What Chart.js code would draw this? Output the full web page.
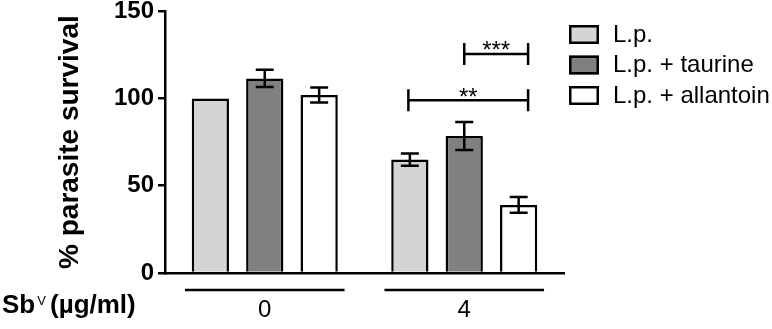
<!DOCTYPE html>
<html>
<head>
<meta charset="utf-8">
<script src="https://cdn.jsdelivr.net/npm/chart.js@4"></script>
<style>
    html, body { margin: 0; padding: 0; background: #fff; }
    #wrap { width: 772px; height: 329px; }
</style>
</head>
<body>
<div id="wrap"><canvas id="survivalChart"></canvas></div>
<script>
const doses = ['0', '4'];
const seriesLabels = ['L.p.', 'L.p. + taurine', 'L.p. + allantoin'];
const seriesColors = ['#d4d4d4', '#808080', '#ffffff'];
const lpSurvival = [100, 65];
const taurineSurvival = [111.5, 78.5];
const allantoinSurvival = [102, 39];
const lpError = [0, 3.5];
const taurineError = [5, 8];
const allantoinError = [4.3, 4.5];
const yTickValues = [0, 50, 100, 150];

// significance brackets (x in category units, y in % survival)
const bracketFrom = [0.72, 1.0];
const bracketTo = [1.32, 1.32];
const bracketLevel = [99, 125.5];
const bracketStars = ['**', '***'];

const FONT = "'Liberation Sans', Arial, sans-serif";
Chart.defaults.font.family = FONT;
Chart.defaults.color = '#000';

const errorSets = [lpError, taurineError, allantoinError];

const annotations = {
    id: 'survivalAnnotations',
    afterDatasetsDraw(chart) {
        const ctx = chart.ctx;
        const x = chart.scales.x;
        const y = chart.scales.y;
        ctx.save();
        ctx.strokeStyle = '#000';
        ctx.lineWidth = 2.5;
        ctx.lineCap = 'butt';

        // error bars
        errorSets.forEach(function(errors, i) {
            const values = chart.data.datasets[i].data;
            chart.getDatasetMeta(i).data.forEach(function(bar, j) {
                if (!errors[j]) return;
                const top = y.getPixelForValue(values[j] + errors[j]);
                const bottom = y.getPixelForValue(values[j] - errors[j]);
                ctx.beginPath();
                ctx.moveTo(bar.x, top);
                ctx.lineTo(bar.x, bottom);
                ctx.moveTo(bar.x - 9, top);
                ctx.lineTo(bar.x + 9, top);
                ctx.moveTo(bar.x - 9, bottom);
                ctx.lineTo(bar.x + 9, bottom);
                ctx.stroke();
            });
        });

        // significance brackets
        ctx.fillStyle = '#000';
        ctx.font = '24px ' + FONT;
        ctx.textAlign = 'center';
        ctx.textBaseline = 'alphabetic';
        bracketLevel.forEach(function(level, k) {
            const x0 = x.getPixelForValue(bracketFrom[k]);
            const x1 = x.getPixelForValue(bracketTo[k]);
            const yy = y.getPixelForValue(level);
            ctx.beginPath();
            ctx.moveTo(x0, yy);
            ctx.lineTo(x1, yy);
            ctx.moveTo(x0, yy - 11);
            ctx.lineTo(x0, yy + 11);
            ctx.moveTo(x1, yy - 11);
            ctx.lineTo(x1, yy + 11);
            ctx.stroke();
            ctx.fillText(bracketStars[k], (x0 + x1) / 2, yy + 4.5);
        });

        // dose group lines under the axis
        const lineY = chart.chartArea.bottom + 17;
        doses.forEach(function(dose, i) {
            ctx.beginPath();
            ctx.moveTo(x.getPixelForValue(i - 0.4), lineY);
            ctx.lineTo(x.getPixelForValue(i + 0.4), lineY);
            ctx.stroke();
        });

        // Sb(V) axis caption
        ctx.textAlign = 'left';
        ctx.font = 'bold 26px ' + FONT;
        ctx.fillText('Sb', 2, 313);
        const sbWidth = ctx.measureText('Sb').width;
        ctx.font = '13px ' + FONT;
        ctx.fillText('V', 2 + sbWidth + 2, 305);
        ctx.font = 'bold 26px ' + FONT;
        ctx.fillText('(\u00b5g/ml)', 50, 313);

        // legend on the right
        const legendX = chart.chartArea.right + 5;
        ctx.font = '24px ' + FONT;
        ctx.textBaseline = 'middle';
        chart.data.datasets.forEach(function(ds, i) {
            const boxTop = 25 + i * 30.5;
            ctx.fillStyle = ds.backgroundColor;
            ctx.fillRect(legendX, boxTop, 30, 19);
            ctx.strokeRect(legendX + 1.25, boxTop + 1.25, 27.5, 16.5);
            ctx.fillStyle = '#000';
            ctx.fillText(ds.label, legendX + 44, boxTop + 10);
        });
        ctx.restore();
    }
};

new Chart(document.getElementById('survivalChart'), {
    type: 'bar',
    data: {
        labels: doses,
        datasets: [lpSurvival, taurineSurvival, allantoinSurvival].map(function(values, i) {
            return {
                label: seriesLabels[i],
                data: values,
                backgroundColor: seriesColors[i],
                borderColor: '#000',
                borderWidth: 2.5
            };
        })
    },
    options: {
        responsive: true,
        maintainAspectRatio: false,
        animation: false,
        categoryPercentage: 0.818,
        barPercentage: 0.685,
        layout: { padding: { top: 11, right: 208, bottom: 0, left: 0 } },
        plugins: {
            tooltip: { enabled: false },
            legend: { display: false }
        },
        scales: {
            x: {
                border: { display: true, color: '#000', width: 2.5 },
                grid: { display: false },
                ticks: { color: '#000', padding: 15, font: { size: 24 } },
                afterFit: function(scale) { scale.height = 56; }
            },
            y: {
                min: 0,
                max: 150,
                border: { display: true, color: '#000', width: 2.5 },
                grid: {
                    display: true,
                    drawOnChartArea: false,
                    drawTicks: true,
                    tickLength: 7,
                    color: '#000',
                    lineWidth: 2.5
                },
                ticks: {
                    color: '#000',
                    padding: 4,
                    font: { size: 24, weight: 'bold', lineHeight: 0.6 }
                },
                afterBuildTicks: function(scale) {
                    scale.ticks = yTickValues.map(function(v) { return { value: v }; });
                },
                title: {
                    display: true,
                    text: '% parasite survival',
                    color: '#000',
                    font: { size: 28, weight: 'bold' },
                    padding: { top: 53, bottom: 0 }
                },
                afterFit: function(scale) { scale.width = 165; }
            }
        }
    },
    plugins: [annotations]
});
</script>
</body>
</html>
